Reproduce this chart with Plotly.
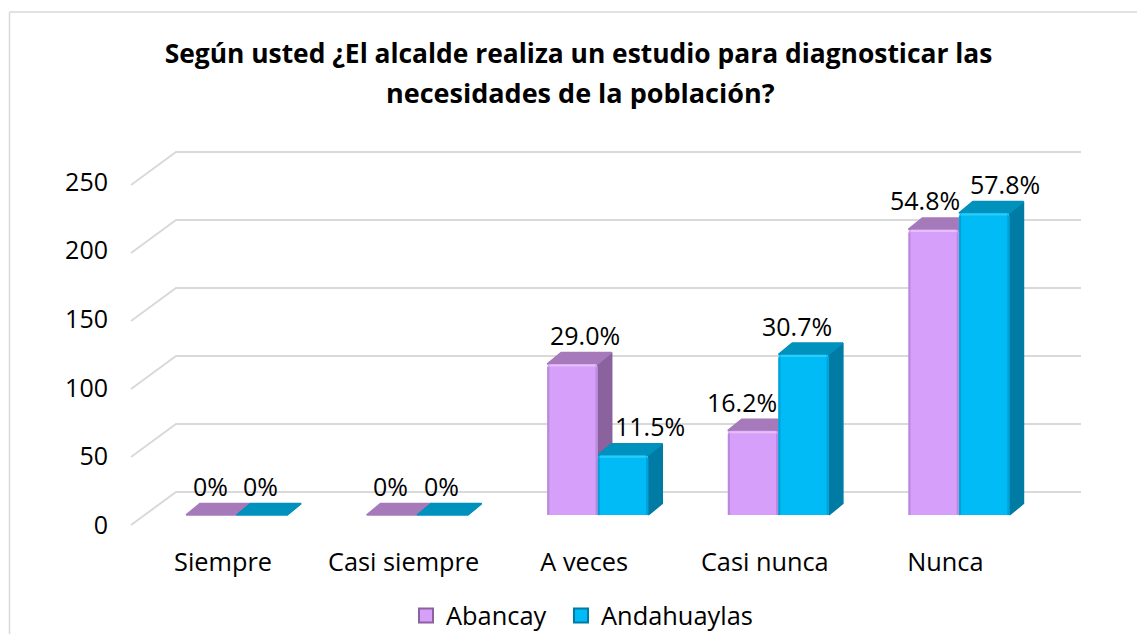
import plotly.graph_objects as go

# ---- data ----
categories = ["Siempre", "Casi siempre", "A veces", "Casi nunca", "Nunca"]
abancay = [0, 0, 111, 62, 210]
andahuaylas = [0, 0, 44, 118, 222]
abancay_labels = ["0%", "0%", "29.0%", "16.2%", "54.8%"]
andahuaylas_labels = ["0%", "0%", "11.5%", "30.7%", "57.8%"]
y_ticks = [0, 50, 100, 150, 200, 250]
title_lines = ["Según usted ¿El alcalde realiza un estudio para diagnosticar las",
               "necesidades de la población?"]

# ---- geometry (pixels) ----
W, H = 1137, 634
PX_CAT = 180.6      # px per category
CAT0_PX = 236.5     # px position of first category
PX_VAL = 1.36       # px per value unit
BASE_PX = 515       # px position of value 0 on the bars' front plane
BAR_W = 0.28
BAR_DX, BAR_DY = 14 / PX_CAT, 11.5 / PX_VAL
x_range = [-CAT0_PX / PX_CAT, (W - CAT0_PX) / PX_CAT]
y_range = [(BASE_PX - H) / PX_VAL, BASE_PX / PX_VAL]


def cat(px):
    return (px - CAT0_PX) / PX_CAT


def val(px):
    return (BASE_PX - px) / PX_VAL


FONT = "Open Sans"
TXT = "#000000"
GRID = "#D9D9D9"
FRONT = ["#D69FF9", "#00BBF5"]
TOP = ["#A67ABA", "#0091BD"]
SIDE = ["#8A629E", "#007BA3"]
LIGHT = ["#E6BEFC", "#2CCBFA"]
SHADE = ["#B98ADB", "#00A3D8"]
NAMES = ["Abancay", "Andahuaylas"]
SHIFT_X = [[-1, -1, 13, -11, -9], [-1, -1, 27, -7, 21]]
SHIFT_Y = 29

fig = go.Figure()

# wall gridlines: front-left corner -> back-left corner -> back-right end
gx, gy = [], []
for t in y_ticks:
    gx += [cat(131), cat(176), cat(1081), None]
    gy += [val(525) + t, val(492) + t, val(492) + t, None]
fig.add_trace(go.Scatter(x=gx, y=gy, mode="lines", line=dict(color=GRID, width=2),
                         hoverinfo="skip", showlegend=False))

# depth faces computed from the values
for s, vals in enumerate([abancay, andahuaylas]):
    sx, sy, tx, ty = [], [], [], []
    for i, v in enumerate(vals):
        left = i - BAR_W + s * BAR_W
        right = left + BAR_W
        sx += [right, right + BAR_DX, right + BAR_DX, right, right, None]
        sy += [0, BAR_DY, v + BAR_DY, v, 0, None]
        tx += [left, right, right + BAR_DX, left + BAR_DX, left, None]
        ty += [v, v, v + BAR_DY, v + BAR_DY, v, None]
    fig.add_trace(go.Scatter(x=sx, y=sy, mode="lines", fill="toself", fillcolor=SIDE[s],
                             line=dict(width=1.5, color=SIDE[s]), hoverinfo="skip", showlegend=False))
    fig.add_trace(go.Scatter(x=tx, y=ty, mode="lines", fill="toself", fillcolor=TOP[s],
                             line=dict(width=1.5, color=TOP[s]), hoverinfo="skip", showlegend=False))

# front faces on an overlaying subplot, so they cover the neighbour's depth faces
idx = list(range(len(categories)))
for s, vals in enumerate([abancay, andahuaylas]):
    fig.add_trace(go.Bar(x=idx, y=vals, width=BAR_W, offset=-BAR_W + s * BAR_W,
                         marker=dict(color=FRONT[s], cornerradius=4, line=dict(width=0)),
                         name=NAMES[s], showlegend=False, xaxis="x2", yaxis="y2"))

# bevel on the front faces, following each bar's value
INSET_X, INSET_Y = 1.2 / PX_CAT, 1.5 / PX_VAL
for s, vals in enumerate([abancay, andahuaylas]):
    lx, ly, ex, ey = [], [], [], []
    for i, v in enumerate(vals):
        if v <= 0:
            continue
        left = i - BAR_W + s * BAR_W
        right = left + BAR_W
        lx += [left + 2 * INSET_X, right - 2 * INSET_X, None]
        ly += [v - INSET_Y, v - INSET_Y, None]
        ex += [left + INSET_X, left + INSET_X, None, right - INSET_X, right - INSET_X, None]
        ey += [0, v - 2 * INSET_Y, None, 0, v - 2 * INSET_Y, None]
    fig.add_trace(go.Scatter(x=ex, y=ey, mode="lines", line=dict(color=SHADE[s], width=2),
                             hoverinfo="skip", showlegend=False, xaxis="x2", yaxis="y2"))
    fig.add_trace(go.Scatter(x=lx, y=ly, mode="lines", line=dict(color=LIGHT[s], width=2),
                             hoverinfo="skip", showlegend=False, xaxis="x2", yaxis="y2"))

# legend entries (one legend each, to space them as in the reference)
for s in range(2):
    fig.add_trace(go.Scatter(x=[None], y=[None], mode="markers", name=NAMES[s],
                             legend="legend" if s == 0 else "legend2",
                             marker=dict(symbol="square", size=14, color=FRONT[s],
                                         line=dict(color=SIDE[s], width=2))))

# invisible carrier for the tick-label axes
fig.add_trace(go.Scatter(x=idx, y=[0] * len(idx), mode="markers", marker=dict(opacity=0, size=1),
                         hoverinfo="skip", showlegend=False, xaxis="x3", yaxis="y3"))

# data labels
for s, (vals, labs) in enumerate(zip([abancay, andahuaylas], [abancay_labels, andahuaylas_labels])):
    for i, (v, lab) in enumerate(zip(vals, labs)):
        fig.add_annotation(x=i - BAR_W / 2 + s * BAR_W, y=v, text=lab, showarrow=False,
                           xanchor="center", yanchor="middle",
                           xshift=SHIFT_X[s][i], yshift=SHIFT_Y,
                           font=dict(family=FONT, size=25, color=TXT))

# second title line, at the reference's wider line spacing
fig.add_annotation(xref="paper", yref="paper", x=580 / W, y=1 - 93 / H, text=title_lines[1],
                   showarrow=False, xanchor="center", yanchor="middle",
                   font=dict(family=FONT, size=27, color=TXT, weight="bold"))

legend_style = dict(orientation="h", xanchor="left", y=1 - 616 / H, yanchor="middle",
                    font=dict(family=FONT, size=25.4, color=TXT), bgcolor="rgba(0,0,0,0)",
                    itemwidth=30)
hidden = dict(visible=False, fixedrange=True)
fig.update_layout(
    width=W, height=H, margin=dict(l=0, r=0, t=0, b=0, autoexpand=False),
    paper_bgcolor="white", plot_bgcolor="white",
    xaxis=dict(range=x_range, **hidden),
    yaxis=dict(range=y_range, **hidden),
    xaxis2=dict(range=x_range, overlaying="x", **hidden),
    yaxis2=dict(range=y_range, overlaying="y", **hidden),
    # category labels sit 13.5 px left of the group centre
    xaxis3=dict(range=[x_range[0] + 13.5 / PX_CAT, x_range[1] + 13.5 / PX_CAT], overlaying="x",
                anchor="free", position=1 - 545 / H, side="bottom",
                tickmode="array", tickvals=idx, ticktext=categories, ticks="",
                showgrid=False, zeroline=False, showline=False, fixedrange=True,
                tickfont=dict(family=FONT, size=25.3, color=TXT)),
    # value labels follow the front corner of the wall
    yaxis3=dict(range=[(525 - H) / 1.372, 525 / 1.372], overlaying="y",
                anchor="free", position=108 / W, side="left",
                tickmode="array", tickvals=y_ticks, ticks="",
                showgrid=False, zeroline=False, showline=False, fixedrange=True,
                tickfont=dict(family=FONT, size=25, color=TXT)),
    title=dict(text=title_lines[0],
               x=578.5 / W, xanchor="center", y=1 - 54 / H, yanchor="middle",
               font=dict(family=FONT, size=26.4, color=TXT, weight="bold")),
    legend=dict(x=406 / W, **legend_style),
    legend2=dict(x=561 / W, **legend_style),
    shapes=[dict(type="line", xref="paper", yref="paper", x0=9.5 / W, x1=9.5 / W, y0=0, y1=1 - 12 / H,
                 line=dict(color=GRID, width=1.5)),
            dict(type="line", xref="paper", yref="paper", x0=9.5 / W, x1=1, y0=1 - 12 / H, y1=1 - 12 / H,
                 line=dict(color=GRID, width=1.5))],
)

fig.write_html("out.html", post_script="document.body.style.margin='0';document.body.style.overflow='hidden';",
               config=dict(displayModeBar=False))
